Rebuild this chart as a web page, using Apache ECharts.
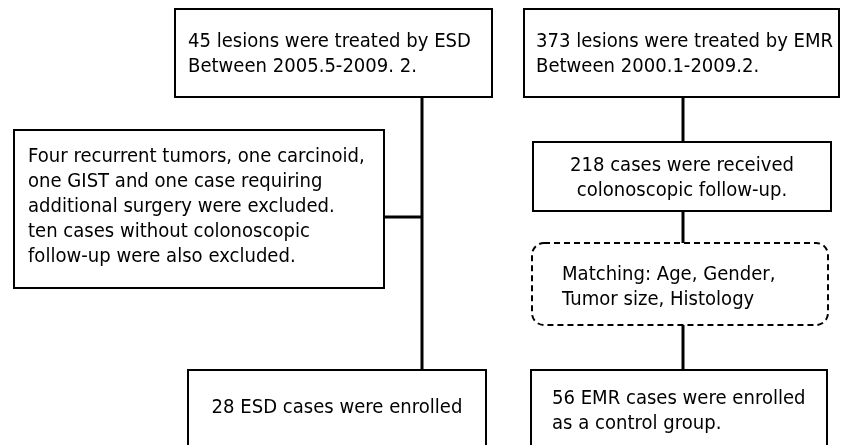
<!DOCTYPE html>
<html>
<head>
<meta charset="utf-8">
<script src="https://cdn.jsdelivr.net/npm/echarts@6/dist/echarts.min.js"></script>
<style>html,body{margin:0;padding:0;background:#fff}#c{width:843px;height:445px}</style>
</head>
<body>
<div id="c"></div>
<script>
// Flowchart content
const nodeTexts = [
  "45 lesions were treated by ESD\nBetween 2005.5-2009. 2.",
  "373 lesions were treated by EMR\nBetween 2000.1-2009.2.",
  "Four recurrent tumors, one carcinoid,\none GIST and one case requiring\nadditional surgery were excluded.\nten cases without colonoscopic\nfollow-up were also excluded.",
  "218 cases were received\ncolonoscopic follow-up.",
  "Matching: Age, Gender,\nTumor size, Histology",
  "28 ESD cases were enrolled",
  "56 EMR cases were enrolled\nas a control group."
];
// layout (diagram units = pixels of the 843x445 canvas): [left, top, right, bottom]
const nodeBoxes = [
  [175, 9, 492, 97],
  [524, 9, 839, 97],
  [14, 130, 384, 288],
  [533, 142, 831, 211],
  [532, 243, 828, 325],
  [188, 370, 486, 460],
  [531, 370, 827, 460]
];
const nodeDashed = [false, false, false, false, true, false, false];
const nodeAlign = ['left', 'left', 'left', 'center', 'left', 'center', 'left'];
const nodeTextPos = [[188, 55], [536, 55], [28, 207], [682, 179], [562, 288], [337, 408], [552, 412]];
// connector polylines
const connectors = [
  [[422, 97], [422, 370]],
  [[384, 217], [422, 217]],
  [[683, 97], [683, 142]],
  [[683, 211], [683, 243]],
  [[683, 325], [683, 370]]
];

const FONT = '19px "DejaVu Sans", Verdana, sans-serif';
const TEXT_SCALE_X = 0.95;

const chart = echarts.init(document.getElementById('c'), null, {renderer: 'canvas'});
chart.setOption({
  animation: false,
  backgroundColor: '#ffffff',
  grid: {left: 0, right: 0, top: 0, bottom: 0},
  xAxis: {type: 'value', min: 0, max: 843, show: false},
  yAxis: {type: 'value', min: 0, max: 445, inverse: true, show: false},
  series: [
    {
      type: 'custom',
      coordinateSystem: 'cartesian2d',
      clip: false,
      data: connectors.map((c, i) => [i]),
      renderItem: function (params, api) {
        const pts = connectors[params.dataIndex].map(p => api.coord(p));
        return {
          type: 'polyline',
          shape: {points: pts},
          style: {stroke: '#000', lineWidth: 3, fill: null}
        };
      }
    },
    {
      type: 'custom',
      coordinateSystem: 'cartesian2d',
      clip: false,
      data: nodeTexts.map((t, i) => [i]),
      renderItem: function (params, api) {
        const i = params.dataIndex;
        const b = nodeBoxes[i];
        const p0 = api.coord([b[0], b[1]]);
        const p1 = api.coord([b[2], b[3]]);
        const tp = api.coord(nodeTextPos[i]);
        const dashed = nodeDashed[i];
        return {
          type: 'group',
          children: [
            {
              type: 'rect',
              shape: {x: p0[0], y: p0[1], width: p1[0] - p0[0], height: p1[1] - p0[1], r: dashed ? 12 : 0},
              style: {fill: '#fff', stroke: '#000', lineWidth: 2, lineDash: dashed ? [6, 4] : null}
            },
            {
              type: 'text',
              x: tp[0], y: tp[1],
              scaleX: TEXT_SCALE_X, scaleY: 1,
              style: {
                x: 0, y: 0,
                text: nodeTexts[i],
                font: FONT,
                fill: '#000',
                align: nodeAlign[i] === 'center' ? 'center' : 'left',
                verticalAlign: 'middle',
                lineHeight: 25
              }
            }
          ]
        };
      }
    }
  ]
});
</script>
</body>
</html>
